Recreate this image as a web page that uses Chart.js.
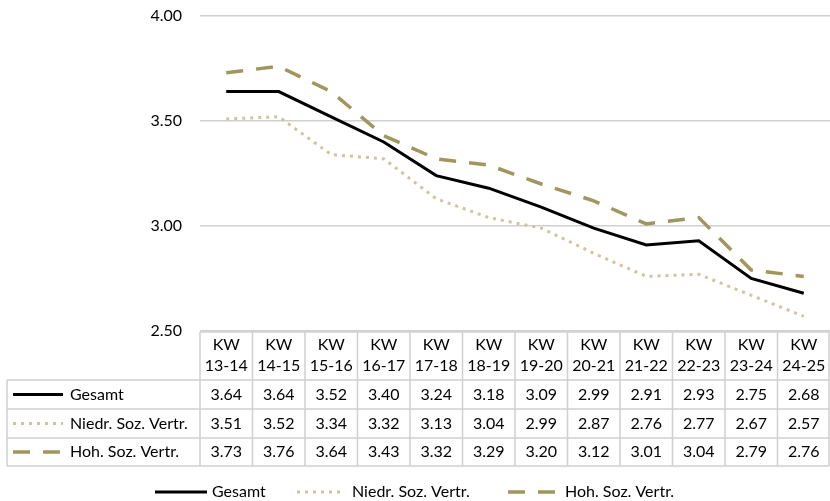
<!DOCTYPE html>
<html><head><meta charset="utf-8">
<script src="https://cdn.jsdelivr.net/npm/chart.js@4"></script>
<style>html,body{margin:0;padding:0;background:#fff}canvas{display:block}</style>
</head><body>
<canvas id="c" width="830" height="501"></canvas>
<script>
const categories = ["KW 13-14","KW 14-15","KW 15-16","KW 16-17","KW 17-18","KW 18-19","KW 19-20","KW 20-21","KW 21-22","KW 22-23","KW 23-24","KW 24-25"];
const gesamt = [3.64,3.64,3.52,3.40,3.24,3.18,3.09,2.99,2.91,2.93,2.75,2.68];
const niedr  = [3.51,3.52,3.34,3.32,3.13,3.04,2.99,2.87,2.76,2.77,2.67,2.57];
const hoh    = [3.73,3.76,3.64,3.43,3.32,3.29,3.20,3.12,3.01,3.04,2.79,2.76];
const yTicks = [2.5,3.0,3.5,4.0];
const seriesNames = ["Gesamt","Niedr. Soz. Vertr.","Hoh. Soz. Vertr."];

const FONT = 'Lato, "Liberation Sans", sans-serif';
const FS = 16;
const styles = [
  {color:'#000000', width:3, dash:[], cap:'butt'},
  {color:'#cec5a0', width:3, dash:[3,5], cap:'butt'},
  {color:'#a0965e', width:3.5, dash:[17,13], cap:'butt'}
];
const seriesData = [gesamt, niedr, hoh];

const tablePlugin = {
  id:'tablePlugin',
  afterDraw(chart){
    const ctx = chart.ctx, x = chart.scales.x, area = chart.chartArea;
    const n = categories.length;
    const step = (x.getPixelForValue(1) - x.getPixelForValue(0));
    const left0 = x.getPixelForValue(0) - step/2;
    const right = x.getPixelForValue(n-1) + step/2 - 1;
    const top = area.bottom + 1;
    const rows = [380, 409, 438, 466];
    const tableLeft = 7;
    ctx.save();
    ctx.strokeStyle = '#d0d0d0';
    ctx.lineWidth = 1.5;
    ctx.beginPath();
    ctx.moveTo(left0, top); ctx.lineTo(right, top);
    rows.forEach(r=>{ctx.moveTo(tableLeft, r); ctx.lineTo(right, r);});
    for(let i=0;i<=n;i++){
      const xx = i===n ? right : left0 + step*i;
      ctx.moveTo(xx, top); ctx.lineTo(xx, rows[3]);
    }
    ctx.moveTo(tableLeft, rows[0]); ctx.lineTo(tableLeft, rows[3]);
    ctx.stroke();

    ctx.fillStyle = '#000';
    ctx.font = FS + 'px ' + FONT;
    ctx.textAlign = 'center';
    ctx.textBaseline = 'middle';
    categories.forEach((c,i)=>{
      const cx = x.getPixelForValue(i);
      const parts = c.split(' ');
      ctx.fillText(parts[0], cx, 345);
      ctx.fillText(parts[1], cx, 366);
    });
    seriesData.forEach((arr,s)=>{
      const cy = (rows[s]+rows[s+1])/2;
      arr.forEach((v,i)=>{
        ctx.fillText(v.toFixed(2), x.getPixelForValue(i), cy);
      });
    });
    ctx.textAlign = 'left';
    seriesNames.forEach((name,s)=>{
      const cy = (rows[s]+rows[s+1])/2;
      const st = styles[s];
      ctx.save();
      ctx.strokeStyle = st.color; ctx.lineWidth = st.width; ctx.setLineDash(st.dash); ctx.lineCap = st.cap;
      ctx.beginPath(); ctx.moveTo(13, cy); ctx.lineTo(63, cy); ctx.stroke();
      ctx.restore();
      ctx.fillText(name, 70, cy);
    });
    const ly = 492;
    const items = [{x1:155,x2:207,tx:212},{x1:297,x2:344,tx:352},{x1:508,x2:556,tx:565}];
    items.forEach((it,s)=>{
      const st = styles[s];
      ctx.save();
      ctx.strokeStyle = st.color; ctx.lineWidth = st.width; ctx.setLineDash(st.dash); ctx.lineCap = st.cap;
      ctx.beginPath(); ctx.moveTo(it.x1, ly); ctx.lineTo(it.x2, ly); ctx.stroke();
      ctx.restore();
      ctx.fillText(seriesNames[s], it.tx, ly);
    });
    ctx.restore();
  }
};

new Chart(document.getElementById('c'), {
  type:'line',
  data:{
    labels: categories,
    datasets: seriesData.map((arr,s)=>({
      label: seriesNames[s],
      data: arr,
      borderColor: styles[s].color,
      borderWidth: styles[s].width,
      borderDash: styles[s].dash,
      borderCapStyle: styles[s].cap,
      pointRadius: 0,
      tension: 0,
      fill: false
    }))
  },
  options:{
    responsive:false,
    animation:false,
    devicePixelRatio:1,
    layout:{padding:{top:16,bottom:170,left:0,right:0}},
    plugins:{legend:{display:false},tooltip:{enabled:false}},
    scales:{
      x:{type:'category', display:false, offset:true},
      y:{
        min:2.5, max:4.0,
        afterBuildTicks: s => { s.ticks = yTicks.map(v=>({value:v})); },
        afterFit: s => { s.width = 200; s.paddingTop = 0; s.paddingBottom = 0; },
        border:{display:false},
        grid:{color:'#d0d0d0', lineWidth:1.5, drawTicks:false},
        ticks:{padding:18, color:'#000', font:{family:FONT, size:FS}, callback: v => Number(v).toFixed(2)}
      }
    }
  },
  plugins:[tablePlugin]
});
</script>
</body></html>
